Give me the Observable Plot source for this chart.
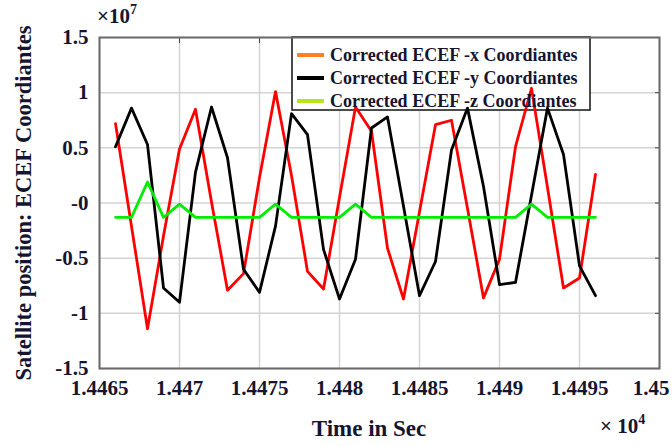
<!DOCTYPE html>
<html>
<head>
<meta charset="utf-8">
<script src="https://cdn.jsdelivr.net/npm/d3@7"></script>
<script src="https://cdn.jsdelivr.net/npm/@observablehq/plot@0.6"></script>
<style>
  html, body { margin: 0; padding: 0; background: #fff; }
  #chart { width: 672px; height: 446px; }
</style>
</head>
<body>
<div id="chart"></div>
<script>
// time samples (seconds)
const times = [14466,14467,14468,14469,14470,14471,14472,14473,14474,14475,14476,
               14477,14478,14479,14480,14481,14482,14483,14484,14485,14486,
               14487,14488,14489,14490,14491,14492,14493,14494,14495,14496];
// positions in units of 1e7 m
const xCoord = [0.72,-0.21,-1.14,-0.30,0.49,0.85,0.01,-0.79,-0.64,0.23,1.01,
                0.25,-0.62,-0.78,0.05,0.87,0.65,-0.41,-0.87,-0.08,0.71,
                0.75,-0.05,-0.86,-0.51,0.51,1.04,0.14,-0.77,-0.68,0.26];
const yCoord = [0.51,0.86,0.53,-0.77,-0.90,0.28,0.87,0.41,-0.60,-0.81,-0.21,
                0.81,0.62,-0.42,-0.87,-0.51,0.68,0.78,-0.03,-0.84,-0.53,
                0.48,0.86,0.15,-0.74,-0.72,0.07,0.86,0.44,-0.57,-0.84];
const zCoord = [-0.13,-0.13,0.19,-0.13,-0.01,-0.13,-0.13,-0.13,-0.13,-0.13,-0.01,
                -0.13,-0.13,-0.13,-0.13,-0.01,-0.13,-0.13,-0.13,-0.13,-0.13,
                -0.13,-0.13,-0.13,-0.13,-0.13,-0.01,-0.13,-0.13,-0.13,-0.13];

const xTicks = [14465,14470,14475,14480,14485,14490,14495,14500];
const yTicks = [-1.5,-1,-0.5,0,0.5,1,1.5];
const seriesNames = ["Corrected ECEF -x Coordiantes","Corrected ECEF -y Coordiantes","Corrected ECEF -z Coordiantes"];
const lineColors = ["#ff0000","#000000","#00ee00"];
const legendColors = ["#ff7f27","#000000","#b5e61d"];
const xLabel = "Time in Sec";
const yLabel = "Satellite position: ECEF Coordiantes";

const rows = (vals) => times.map((t,i) => ({t, v: vals[i]}));
const series = [xCoord, yCoord, zCoord];

const font = "'Liberation Serif', 'Times New Roman', serif";
const textColor = "#151530";
const fmtX = d => String(+(d/1e4).toFixed(4));

const chart = Plot.plot({
  width: 672,
  height: 446,
  marginLeft: 99,
  marginRight: 13,
  marginTop: 37,
  marginBottom: 78,
  style: {fontFamily: font, fontWeight: "bold", fontSize: "21px", background: "#fff", color: textColor},
  x: {domain: [14465, 14500], label: null},
  y: {domain: [-1.5, 1.5], label: null},
  marks: [
    Plot.gridX(xTicks, {stroke: "#d4d4d4", strokeOpacity: 1, strokeWidth: 1.5}),
    Plot.gridY(yTicks, {stroke: "#d4d4d4", strokeOpacity: 1, strokeWidth: 1.5}),
    Plot.axisX(xTicks.slice(0, -1), {tickSize: 0, tickPadding: 12, tickFormat: fmtX, fill: textColor}),
    Plot.axisX(xTicks.slice(-1), {tickSize: 0, tickPadding: 12, tickFormat: fmtX, fill: textColor, textAnchor: "end", dx: 10}),
    Plot.axisY(yTicks, {tickSize: 0, tickPadding: 11, tickFormat: d => d === 0 ? "-0" : String(d), fill: textColor}),
    Plot.axisX(xTicks, {anchor: "top", tickSize: -5, stroke: "#444", tickFormat: () => ""}),
    Plot.axisY(yTicks, {anchor: "right", tickSize: -5, stroke: "#444", tickFormat: () => ""}),
    ...series.map((s, i) => Plot.lineY(rows(s), {x: "t", y: "v", stroke: lineColors[i], strokeWidth: 2.8})),
    Plot.frame({stroke: "#6a6a6a", strokeWidth: 2})
  ]
});

document.getElementById("chart").appendChild(chart);

const svg = d3.select(chart);
// axis labels
svg.append("text")
  .attr("transform", "translate(31,203) rotate(-90)")
  .attr("text-anchor", "middle")
  .attr("font-family", font).attr("font-weight", "bold").attr("font-size", 22.5)
  .attr("fill", textColor)
  .text(yLabel);
svg.append("text")
  .attr("x", 369).attr("y", 436)
  .attr("text-anchor", "middle")
  .attr("font-family", font).attr("font-weight", "bold").attr("font-size", 23)
  .attr("fill", textColor)
  .text(xLabel);
// multipliers
const m7 = svg.append("text").attr("x", 97).attr("y", 23).attr("text-anchor", "start")
  .attr("font-family", font).attr("font-size", 21).attr("fill", textColor);
m7.append("tspan").text("×10");
m7.append("tspan").attr("dy", -9).attr("font-size", 14).text("7");
const m4 = svg.append("text").attr("x", 600).attr("y", 433).attr("text-anchor", "start")
  .attr("font-family", font).attr("font-size", 21).attr("fill", textColor);
m4.append("tspan").text("× 10");
m4.append("tspan").attr("dy", -9).attr("font-size", 14).text("4");

// legend: box sits beneath the data lines, entries on top
svg.insert("rect", 'g[aria-label="line"]')
  .attr("x", 292).attr("y", 37).attr("width", 298).attr("height", 73)
  .attr("fill", "#fff").attr("stroke", "#111").attr("stroke-width", 1.5);
const lg = svg.append("g");
seriesNames.forEach((name, i) => {
  const cy = 55 + i * 23;
  lg.append("line").attr("x1", 297).attr("x2", 324).attr("y1", cy).attr("y2", cy)
    .attr("stroke", legendColors[i]).attr("stroke-width", 4);
  lg.append("text").attr("x", 330).attr("y", cy + 6).attr("text-anchor", "start")
    .attr("font-family", font).attr("font-weight", "bold").attr("font-size", 18)
    .attr("fill", textColor).text(name);
});
</script>
</body>
</html>
